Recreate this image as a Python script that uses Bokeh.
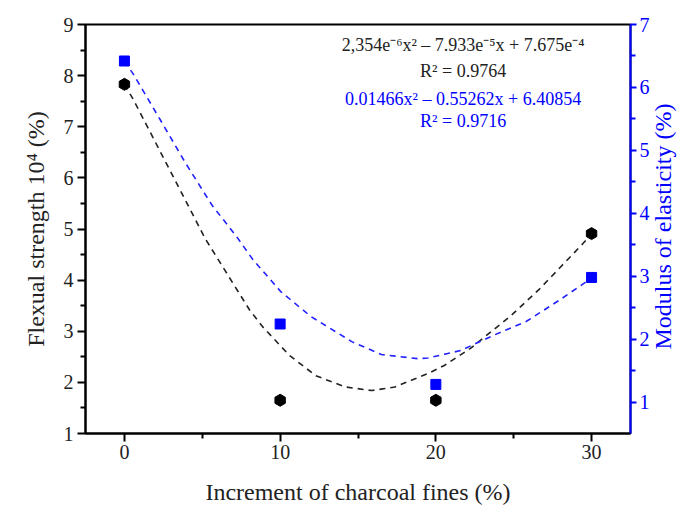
import numpy as np
from bokeh.plotting import figure
from bokeh.models import Range1d, LinearAxis, Label, FixedTicker
from bokeh.embed import file_html
from bokeh.resources import INLINE

# ---- data ----
increment = [0, 10, 20, 30]
flexural = [7.83, 1.65, 1.65, 4.91]          # left axis (x10^4 %)
modulus = [6.42, 2.24, 1.28, 2.98]           # right axis (%)

# dashed trend curves as drawn in the reference
flex_curve_x = [0, 0.54, 2.87, 5.19, 8.05, 8.9, 10.59, 12.29, 14.19, 15.88,
                17.37, 18.42, 19.48, 20.54, 22.2, 24.77, 26.67, 29.43, 30]
flex_curve_y = [7.83, 7.55, 6.18, 4.81, 3.41, 3.08, 2.53, 2.13, 1.91, 1.84,
                1.91, 2.04, 2.17, 2.33, 2.66, 3.29, 3.83, 4.71, 4.91]
mod_curve_x = [0, 0.6, 2.29, 3.92, 5.62, 7.2, 8.26, 10.06, 11.97, 14.6,
               16.5, 18.84, 19.5, 20.75, 21.6, 23.7, 25.8, 27.94, 30]
mod_curve_y = [6.42, 6.20, 5.49, 4.80, 4.13, 3.63, 3.26, 2.75, 2.36, 1.96,
               1.755, 1.69, 1.70, 1.77, 1.82, 2.06, 2.28, 2.62, 2.97]

x_ticks = [0, 10, 20, 30]
x_minor = [5, 15, 25]
left_ticks = [1, 2, 3, 4, 5, 6, 7, 8, 9]
left_minor = [1.5, 2.5, 3.5, 4.5, 5.5, 6.5, 7.5, 8.5]
right_ticks = [1, 2, 3, 4, 5, 6, 7]
right_minor = [1.5, 2.5, 3.5, 4.5, 5.5, 6.5]

x_title = "Increment of charcoal fines (%)"
left_title = "Flexual strength 10\u2074 (%)"
right_title = "Modulus of elasticity (%)"
eq_black = "2,354e\u207b\u2076x\u00b2 \u2013 7.933e\u207b\u2075x + 7.675e\u207b\u2074"
r2_black = "R\u00b2 = 0.9764"
eq_blue = "0.01466x\u00b2 \u2013 0.55262x + 6.40854"
r2_blue = "R\u00b2 = 0.9716"

FONT = "Liberation Serif"
BLUE = "#0000ff"
DARK = "#222222"

p = figure(width=691, height=513,
           x_range=Range1d(-2.5, 32.5), y_range=Range1d(1, 9),
           output_backend="svg", toolbar_location=None,
           min_border_left=85, min_border_top=24,
           min_border_right=57, min_border_bottom=80)
p.extra_y_ranges = {"mod": Range1d(0.5, 7)}
p.grid.visible = False
p.outline_line_color = "black"
p.outline_line_width = 2
p.background_fill_color = "white"
p.border_fill_color = "white"

def style_axis(ax, color, major_out=8):
    ax.axis_line_color = color
    ax.axis_line_width = 2
    ax.major_tick_line_color = color
    ax.major_tick_line_width = 2
    ax.minor_tick_line_color = color
    ax.minor_tick_line_width = 2
    ax.major_tick_out = major_out
    ax.major_tick_in = 0
    ax.minor_tick_out = 5
    ax.minor_tick_in = 0
    ax.major_label_text_font = FONT
    ax.major_label_text_font_size = "20px"
    ax.major_label_text_color = color
    ax.axis_label_text_font = FONT
    ax.axis_label_text_font_style = "normal"
    ax.axis_label_text_font_size = "24px"
    ax.axis_label_text_color = color

xa = p.xaxis[0]
xa.ticker = FixedTicker(ticks=x_ticks, minor_ticks=x_minor)
style_axis(xa, "black")
xa.major_label_text_color = DARK
xa.axis_label_text_color = DARK
xa.axis_label = x_title
xa.major_label_standoff = 3
xa.axis_label_standoff = 17

ya = p.yaxis[0]
ya.ticker = FixedTicker(ticks=left_ticks, minor_ticks=left_minor)
style_axis(ya, "black")
ya.major_label_text_color = DARK
ya.axis_label_text_color = DARK
ya.axis_label = left_title
ya.major_label_standoff = 4
ya.axis_label_standoff = 12

ra = LinearAxis(y_range_name="mod",
                ticker=FixedTicker(ticks=right_ticks, minor_ticks=right_minor))
style_axis(ra, BLUE, major_out=6)
ra.major_label_standoff = 3
# title reads bottom-to-top; anchored at the axis start and nudged up
ra.axis_label = "\u00a0" * 14 + right_title
ra.axis_label_orientation = np.pi / 2
ra.axis_label_align = "start"
ra.axis_label_standoff = 10
p.add_layout(ra, "right")

# dashed curves
p.line(flex_curve_x, flex_curve_y, line_color=DARK, line_width=1.6,
       line_dash="6 5")
p.line(mod_curve_x, mod_curve_y, line_color="#2222ff", line_width=1.6,
       line_dash="6 5", y_range_name="mod")

# markers
p.scatter(increment, flexural, marker="hex", size=12, color="black",
          angle=np.pi / 6)
p.scatter(increment, modulus, marker="square", size=10, color=BLUE,
          y_range_name="mod")

# equations
for txt, yy, col in [(eq_black, 8.59, DARK), (r2_black, 8.10, DARK),
                     (eq_blue, 7.55, BLUE), (r2_blue, 7.12, BLUE)]:
    p.add_layout(Label(x=21.75, y=yy, text=txt, text_align="center",
                       text_baseline="middle", text_font=FONT,
                       text_font_size="18px", text_color=col))

open("out.html", "w").write(file_html(p, INLINE))
